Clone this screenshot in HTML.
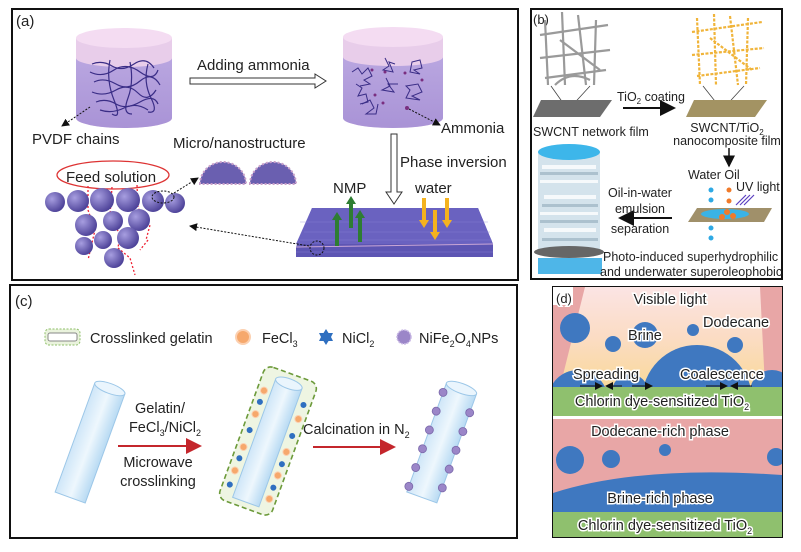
<!DOCTYPE html>
<html><head><meta charset="utf-8"><style>
html,body{margin:0;padding:0;background:#fff}
svg{display:block}
text{font-family:"Liberation Sans",sans-serif;fill:#222}
.d text{stroke:#fff;stroke-width:3;paint-order:stroke;fill:#222}
</style></head><body>
<svg width="801" height="552" viewBox="0 0 801 552" xmlns="http://www.w3.org/2000/svg">
<defs>
<linearGradient id="liq" x1="0" x2="0" y1="0" y2="1"><stop offset="0" stop-color="#b9a6e0"/><stop offset="1" stop-color="#a993d6"/></linearGradient>
<radialGradient id="sph" cx="0.35" cy="0.35" r="0.7"><stop offset="0" stop-color="#a79ee0"/><stop offset="1" stop-color="#4a3f96"/></radialGradient>
<linearGradient id="cyl" x1="0" x2="1"><stop offset="0" stop-color="#cfe6f8"/><stop offset="0.5" stop-color="#eef7fd"/><stop offset="1" stop-color="#b8daf3"/></linearGradient>
<linearGradient id="lit" x1="0" x2="0" y1="0" y2="1"><stop offset="0" stop-color="#fbe4e4"/><stop offset="0.5" stop-color="#fbdcc4"/><stop offset="1" stop-color="#f9d99a"/></linearGradient>
<clipPath id="dtop"><rect x="553" y="287" width="229" height="100"/></clipPath>
<clipPath id="dbot"><rect x="553" y="419" width="229" height="93"/></clipPath>
<marker id="ah" markerWidth="8" markerHeight="8" refX="7" refY="4" orient="auto"><path d="M0,0L8,4L0,8z" fill="#111"/></marker>
<marker id="ahr" markerWidth="8" markerHeight="8" refX="7" refY="4" orient="auto"><path d="M0,0L8,4L0,8z" fill="#c4262c"/></marker>
</defs>
<rect x="12" y="9" width="506" height="271" fill="none" stroke="#111" stroke-width="2"/>
<rect x="531" y="9" width="251" height="270" fill="none" stroke="#111" stroke-width="2"/>
<rect x="10" y="285" width="507" height="253" fill="none" stroke="#111" stroke-width="2"/>

<!-- (a) -->
<text x="16" y="26" font-size="15">(a)</text>
<g>
<path d="M76,38 V118 A48,10 0 0 0 172,118 V38" fill="#e8cdea"/>
<path d="M76,58 V118 A48,10 0 0 0 172,118 V58 A48,9 0 0 1 76,58z" fill="url(#liq)"/>
<ellipse cx="124" cy="38" rx="48" ry="10" fill="#f4dcf2"/>
<g stroke="#3a2d86" stroke-width="1.2" fill="none">
<path d="M92,64 q10,-4 20,2 t22,-2 t20,4"/><path d="M90,72 q12,6 24,-2 t26,2 t18,-2"/><path d="M94,82 q10,-5 22,2 t24,-3 t20,4"/><path d="M92,92 q12,5 24,-2 t22,3 t18,-3"/><path d="M96,102 q10,-4 20,2 t24,-2 t18,2"/><path d="M100,110 q12,4 24,-2 t24,2"/><path d="M110,60 q-4,20 4,40 t-2,14"/><path d="M130,62 q4,20 -2,36 t4,16"/><path d="M148,64 q-5,18 3,34 t-3,14"/>
</g>
<path d="M343,37 V118 A50,10 0 0 0 443,118 V37" fill="#e8cdea"/>
<path d="M343,57 V118 A50,10 0 0 0 443,118 V57 A50,9 0 0 1 343,57z" fill="url(#liq)"/>
<ellipse cx="393" cy="37" rx="50" ry="10" fill="#f4dcf2"/>
<g stroke="#3a2d86" stroke-width="1" fill="none">
<path d="M352,72 l6,-4 l4,6 l6,-6 l4,8 l-8,4 l6,4 l-10,2"/><path d="M385,58 l4,8 l-6,4 l10,2 l-4,-10 l6,2"/><path d="M412,62 l8,-2 l2,8 l-8,2 l6,4 l-10,-2 z"/><path d="M356,84 l6,4 l-4,8 l8,-2 l2,8 l-8,2"/><path d="M386,78 l4,8 l-8,4 l12,2 l-6,-8 l10,0"/><path d="M406,86 l12,-2 l4,8 l-10,4 l8,4 l-14,-2 l4,-8z"/><path d="M362,104 l8,-4 l4,8 l-8,6 l10,0 l2,-10"/>
</g>
<g fill="#7a2e80"><circle cx="372" cy="70" r="1.5"/><circle cx="385" cy="72" r="1.5"/><circle cx="405" cy="73" r="1.5"/><circle cx="375" cy="95" r="1.5"/><circle cx="422" cy="80" r="1.5"/><circle cx="383" cy="103" r="1.5"/><circle cx="407" cy="108" r="2"/></g>
</g>
<path d="M190,78 H315 V74 L326,81 L315,88 V84 H190z" fill="#fff" stroke="#333"/>
<text x="197" y="70" font-size="15">Adding ammonia</text>
<line x1="90" y1="107" x2="62" y2="126" stroke="#111" stroke-dasharray="2,1.5" marker-end="url(#ah)"/>
<text x="32" y="144" font-size="15">PVDF chains</text>
<line x1="409" y1="109" x2="440" y2="125" stroke="#111" stroke-dasharray="2,1.5" marker-end="url(#ah)"/>
<text x="441" y="133" font-size="15">Ammonia</text>
<text x="173" y="148" font-size="15">Micro/nanostructure</text>
<path d="M200,184 A23,22 0 0 1 246,184z" fill="#6a5fb0" stroke="#c9a0c9" stroke-width="2" stroke-dasharray="2,2"/>
<path d="M250,184 A23,22 0 0 1 296,184z" fill="#6a5fb0" stroke="#c9a0c9" stroke-width="2" stroke-dasharray="2,2"/>
<ellipse cx="113" cy="175" rx="56" ry="14" fill="none" stroke="#d33" stroke-width="1.3"/>
<text x="66" y="182" font-size="15">Feed solution</text>
<g stroke="#e23" stroke-width="1.3" stroke-dasharray="2,2" fill="none">
<path d="M88,186 V210 L95,230 L88,260"/><path d="M112,187 L110,215 L120,235 L118,248"/><path d="M137,185 L138,208 L150,225 L146,240"/><path d="M148,240 L140,250"/><path d="M118,248 L130,258 L135,275"/>
</g>
<g fill="url(#sph)">
<circle cx="55" cy="202" r="10"/><circle cx="78" cy="201" r="11"/><circle cx="102" cy="200" r="12"/><circle cx="128" cy="200" r="12"/><circle cx="153" cy="201" r="11"/><circle cx="175" cy="203" r="10"/>
<circle cx="86" cy="225" r="11"/><circle cx="113" cy="221" r="10"/><circle cx="139" cy="220" r="11"/>
<circle cx="84" cy="246" r="9"/><circle cx="103" cy="240" r="9"/><circle cx="128" cy="238" r="11"/><circle cx="114" cy="258" r="10"/>
</g>
<ellipse cx="163" cy="197" rx="11" ry="6" fill="none" stroke="#111" stroke-dasharray="2,1.5"/>
<line x1="174" y1="193" x2="198" y2="178" stroke="#111" stroke-dasharray="2,1.5" marker-end="url(#ah)"/>
<path d="M391,134 H397 V192 H402 L394,204 L386,192 H391z" fill="#fff" stroke="#333"/>
<text x="400" y="167" font-size="15">Phase inversion</text>
<text x="333" y="193" font-size="15">NMP</text>
<text x="415" y="193" font-size="15">water</text>
<path d="M312,208 H478 L493,244 V257 H296 V247z" fill="#5d55b3"/>
<path d="M312,208 H478 L493,244 H296z" fill="#6a62c0"/>
<path d="M296,247 L493,244" stroke="#c9a6d6" stroke-width="1"/>
<g stroke="#8d86d8" stroke-width="0.6" opacity="0.7">
<path d="M300,222 H488 M304,232 H490 M300,240 H492 M296,252 H493"/>
</g>
<g fill="#2e7d32">
<path d="M335,246 V220 H332 L337,212 L342,220 H339 V246z"/><path d="M349,228 V204 H346 L351,196 L356,204 H353 V228z"/><path d="M358,242 V218 H355 L360,210 L365,218 H362 V242z"/>
</g>
<g fill="#f4b21f">
<path d="M422,198 V220 H419 L424,228 L429,220 H426 V198z"/><path d="M433,210 V232 H430 L435,240 L440,232 H437 V210z"/><path d="M445,198 V220 H442 L447,228 L452,220 H449 V198z"/>
</g>
<circle cx="317" cy="248" r="7" fill="none" stroke="#111" stroke-dasharray="2,1.5"/>
<line x1="309" y1="246" x2="190" y2="226" stroke="#111" stroke-dasharray="2,1.5" marker-end="url(#ah)"/>

<!-- (b) -->
<text x="533" y="24" font-size="13">(b)</text>
<g stroke="#9a9a9a" stroke-width="2.2" fill="none">
<path d="M545,20 L548,85"/><path d="M562,12 L565,85"/><path d="M578,15 L586,85"/><path d="M596,20 L594,85"/><path d="M540,35 L608,25"/><path d="M540,58 L610,50"/><path d="M545,78 L606,70"/><path d="M560,40 L600,70"/><path d="M555,85 Q570,70 590,80"/>
</g>
<path d="M568,110 L551,86 M568,110 L590,86" stroke="#444" stroke-width="0.8"/>
<path d="M541,100 H612 L600,117 H533z" fill="#6d6d6d"/>
<text x="533" y="136" font-size="12.5">SWCNT network film</text>
<line x1="623" y1="108" x2="674" y2="108" stroke="#111" stroke-width="2" marker-end="url(#ah)"/>
<text x="617" y="101" font-size="12.5">TiO<tspan font-size="8" dy="3">2</tspan><tspan dy="-3"> coating</tspan></text>
<g stroke="#f0b43a" stroke-width="2.2" fill="none" stroke-dasharray="3,1.5">
<path d="M697,18 L700,85"/><path d="M714,14 L716,85"/><path d="M730,16 L738,85"/><path d="M748,18 L746,85"/><path d="M692,32 L762,22"/><path d="M692,55 L764,48"/><path d="M697,76 L760,68"/><path d="M710,38 L752,70"/>
</g>
<path d="M722,110 L703,86 M722,110 L744,86" stroke="#444" stroke-width="0.8"/>
<path d="M694,100 H767 L755,117 H686z" fill="#a39363"/>
<text x="727" y="132" font-size="12.5" text-anchor="middle">SWCNT/TiO<tspan font-size="8" dy="3">2</tspan></text>
<text x="727" y="145" font-size="12.5" text-anchor="middle">nanocomposite film</text>
<line x1="729" y1="148" x2="729" y2="166" stroke="#111" stroke-width="1.5" marker-end="url(#ah)"/>
<text x="688" y="179" font-size="12.5">Water Oil</text>
<text x="736" y="191" font-size="12.5">UV light</text>
<path d="M746,195 l-10,10 M750,195 l-10,10 M754,195 l-10,10" stroke="#5a3fc0" stroke-width="1.2"/>
<path d="M697,208 H772 L764,222 H688z" fill="#a0906a"/>
<ellipse cx="725" cy="214" rx="24" ry="5" fill="#3ab3e6"/>
<g fill="#f07a2a"><circle cx="727" cy="212" r="3"/><circle cx="733" cy="216" r="3"/><circle cx="722" cy="217" r="3"/></g>
<g fill="#2fa9e4"><circle cx="711" cy="190" r="2.5"/><circle cx="711" cy="200" r="2.5"/><circle cx="711" cy="228" r="2.5"/><circle cx="711" cy="238" r="2.5"/></g>
<g fill="#f07a2a"><circle cx="729" cy="190" r="2.5"/><circle cx="729" cy="201" r="2.5"/></g>
<rect x="538" y="152" width="62" height="98" fill="#d4e3ec"/>
<ellipse cx="569" cy="152" rx="31" ry="8" fill="#3db6ea"/>
<g fill="#fff" opacity="0.8"><rect x="542" y="165" width="54" height="4"/><rect x="540" y="180" width="58" height="3"/><rect x="544" y="195" width="52" height="4"/><rect x="540" y="212" width="58" height="3"/><rect x="544" y="228" width="52" height="4"/></g>
<g fill="#9cb4c2" opacity="0.7"><rect x="540" y="172" width="58" height="3"/><rect x="542" y="204" width="56" height="3"/><rect x="540" y="220" width="58" height="3"/><rect x="542" y="238" width="56" height="3"/></g>
<ellipse cx="569" cy="252" rx="35" ry="6" fill="#666"/>
<g fill="#2fa9e4"><rect x="538" y="258" width="64" height="16" opacity="0.85"/></g>
<line x1="672" y1="218" x2="620" y2="218" stroke="#111" stroke-width="2" marker-end="url(#ah)"/>
<text x="640" y="197" font-size="12.5" text-anchor="middle">Oil-in-water</text>
<text x="640" y="213" font-size="12.5" text-anchor="middle">emulsion</text>
<text x="640" y="233" font-size="12.5" text-anchor="middle">separation</text>
<text x="603" y="261" font-size="12.5">Photo-induced superhydrophilic</text>
<text x="600" y="276" font-size="12.5">and underwater superoleophobic</text>

<!-- (c) -->
<text x="15" y="306" font-size="15">(c)</text>
<rect x="45" y="329" width="35" height="16" rx="4" fill="#eaf3dd" stroke="#8fbf6a" stroke-dasharray="2,1.5"/>
<rect x="48" y="333" width="29" height="8" rx="2" fill="#fff" stroke="#888"/>
<text x="90" y="343" font-size="14.5">Crosslinked gelatin</text>
<circle cx="243" cy="337" r="7" fill="#f6a86c" stroke="#fcd0b0" stroke-width="2"/>
<text x="262" y="343" font-size="14.5">FeCl<tspan font-size="9" dy="4">3</tspan></text>
<path d="M326,329 l2.5,4 l4.5,0 l-2,4 l2,4 l-4.5,0 l-2.5,4 l-2.5,-4 l-4.5,0 l2,-4 l-2,-4 l4.5,0z" fill="#2f6fc0"/>
<text x="342" y="343" font-size="14.5">NiCl<tspan font-size="9" dy="4">2</tspan></text>
<circle cx="404" cy="337" r="7" fill="#9b86c8" stroke="#c8b8e4" stroke-width="1.5" stroke-dasharray="2,1"/>
<text x="419" y="343" font-size="14.5">NiFe<tspan font-size="9" dy="4">2</tspan><tspan dy="-4">O</tspan><tspan font-size="9" dy="4">4</tspan><tspan dy="-4">NPs</tspan></text>
<g transform="rotate(20 90 443)">
<rect x="74" y="385" width="32" height="116" fill="url(#cyl)" stroke="#9cc7e8"/>
<ellipse cx="90" cy="385" rx="16" ry="5" fill="#eaf5fd" stroke="#9cc7e8"/>
</g>
<line x1="118" y1="446" x2="200" y2="446" stroke="#c4262c" stroke-width="2" marker-end="url(#ahr)"/>
<text x="160" y="413" font-size="14.5" text-anchor="middle">Gelatin/</text>
<text x="165" y="432" font-size="14.5" text-anchor="middle">FeCl<tspan font-size="9" dy="4">3</tspan><tspan dy="-4">/NiCl</tspan><tspan font-size="9" dy="4">2</tspan></text>
<text x="158" y="467" font-size="14.5" text-anchor="middle">Microwave</text>
<text x="158" y="486" font-size="14.5" text-anchor="middle">crosslinking</text>
<g transform="rotate(20 268 441)">
<rect x="240" y="370" width="56" height="142" rx="8" fill="#eef5e2" stroke="#6c9a3a" stroke-width="1.6" stroke-dasharray="5,3"/>
<rect x="254" y="380" width="28" height="126" fill="url(#cyl)" stroke="#9cc7e8"/>
<ellipse cx="268" cy="380" rx="14" ry="5" fill="#eaf5fd" stroke="#9cc7e8"/>
<g fill="#f6a86c" stroke="#fcd0b0"><circle cx="247" cy="395" r="3.5"/><circle cx="247" cy="420" r="3.5"/><circle cx="247" cy="455" r="3.5"/><circle cx="247" cy="480" r="3.5"/><circle cx="289" cy="410" r="3.5"/><circle cx="289" cy="445" r="3.5"/><circle cx="289" cy="470" r="3.5"/><circle cx="289" cy="495" r="3.5"/></g>
<g fill="#2f6fc0"><circle cx="247" cy="407" r="3"/><circle cx="247" cy="437" r="3"/><circle cx="247" cy="467" r="3"/><circle cx="247" cy="495" r="3"/><circle cx="289" cy="395" r="3"/><circle cx="289" cy="428" r="3"/><circle cx="289" cy="458" r="3"/><circle cx="289" cy="483" r="3"/></g>
</g>
<line x1="313" y1="447" x2="394" y2="447" stroke="#c4262c" stroke-width="2" marker-end="url(#ahr)"/>
<text x="303" y="434" font-size="14.5">Calcination in N<tspan font-size="9" dy="4">2</tspan></text>
<g transform="rotate(20 442 442)">
<rect x="426" y="385" width="32" height="116" fill="url(#cyl)" stroke="#9cc7e8"/>
<ellipse cx="442" cy="385" rx="16" ry="5" fill="#eaf5fd" stroke="#9cc7e8"/>
<g fill="#9b86c8" stroke="#7a68aa" stroke-width="0.8"><circle cx="426" cy="395" r="4"/><circle cx="426" cy="415" r="4"/><circle cx="426" cy="435" r="4"/><circle cx="426" cy="455" r="4"/><circle cx="426" cy="475" r="4"/><circle cx="426" cy="495" r="4"/><circle cx="458" cy="405" r="4"/><circle cx="458" cy="425" r="4"/><circle cx="458" cy="445" r="4"/><circle cx="458" cy="465" r="4"/><circle cx="458" cy="485" r="4"/></g>
</g>

<!-- (d) -->
<g class="d">
<rect x="552" y="286" width="231" height="252" fill="#111"/>
<rect x="553" y="287" width="229" height="250" fill="#e8a6a6"/>
<path d="M585,287 H760 L765,387 H560z" fill="url(#lit)"/>
<g fill="#3f78c0" clip-path="url(#dtop)">
<circle cx="575" cy="328" r="15"/><circle cx="613" cy="344" r="8"/><circle cx="645" cy="335" r="13"/><circle cx="693" cy="330" r="6"/><circle cx="735" cy="345" r="8"/>
<circle cx="578" cy="400" r="30"/><circle cx="630" cy="392" r="18"/><circle cx="697" cy="400" r="55"/><circle cx="772" cy="392" r="22"/>
</g>
<rect x="553" y="387" width="229" height="29" fill="#8fc06e"/>
<rect x="553" y="416" width="229" height="3" fill="#fff"/>
<rect x="553" y="419" width="229" height="93" fill="#e8a6a6"/>
<g fill="#3f78c0" clip-path="url(#dbot)"><circle cx="570" cy="460" r="14"/><circle cx="611" cy="459" r="9"/><circle cx="665" cy="450" r="6"/><circle cx="776" cy="457" r="9"/></g>
<path d="M553,512 V493 Q640,465 782,475 V512z" fill="#3f78c0"/>
<rect x="553" y="512" width="229" height="25" fill="#8fc06e"/>
<rect x="553" y="287" width="20" height="18" fill="#fff"/>
<text x="556" y="303" font-size="13">(d)</text>
<text x="670" y="304" font-size="14.5" text-anchor="middle">Visible light</text>
<text x="703" y="327" font-size="14.5">Dodecane</text>
<text x="628" y="340" font-size="14.5">Brine</text>
<text x="573" y="379" font-size="14.5">Spreading</text>
<text x="680" y="379" font-size="14.5">Coalescence</text>
<text x="662" y="406" font-size="14.5" text-anchor="middle">Chlorin dye-sensitized TiO<tspan font-size="9" dy="4">2</tspan></text>
<text x="660" y="436" font-size="14.5" text-anchor="middle">Dodecane-rich phase</text>
<text x="660" y="503" font-size="14.5" text-anchor="middle">Brine-rich phase</text>
<text x="665" y="530" font-size="14.5" text-anchor="middle">Chlorin dye-sensitized TiO<tspan font-size="9" dy="4">2</tspan></text>
</g>
<g stroke="#111" stroke-width="1" marker-end="url(#ah)">
<line x1="580" y1="386" x2="602" y2="386"/><line x1="622" y1="386" x2="606" y2="386"/><line x1="632" y1="386" x2="652" y2="386"/><line x1="706" y1="386" x2="727" y2="386"/><line x1="752" y1="386" x2="731" y2="386"/>
</g>
</svg>
</body></html>
